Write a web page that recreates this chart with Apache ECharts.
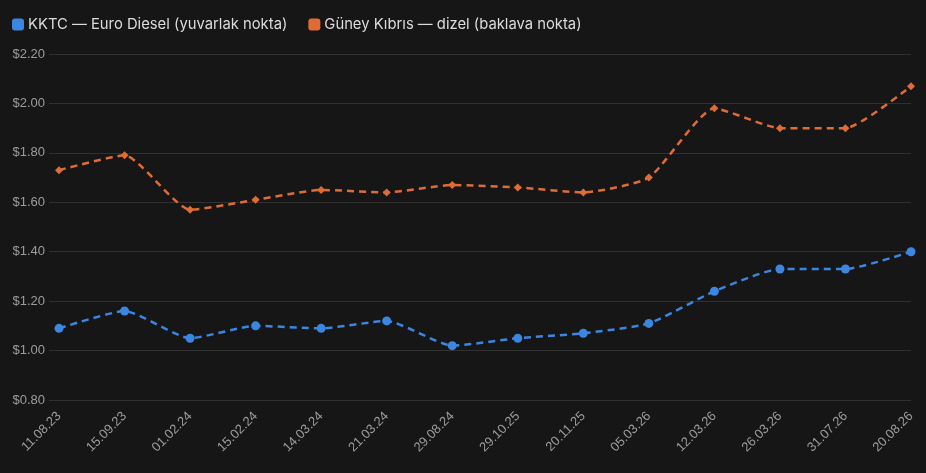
<!DOCTYPE html>
<html>
<head>
<meta charset="utf-8">
<script src="https://cdn.jsdelivr.net/npm/echarts@6/dist/echarts.min.js"></script>
<style>
  html, body { margin: 0; padding: 0; background: #161616; }
  #chart { width: 926px; height: 473px; }
</style>
</head>
<body>
<div id="chart"></div>
<script>
const dates = ["11.08.23", "15.09.23", "01.02.24", "15.02.24", "14.03.24", "21.03.24", "29.08.24",
  "29.10.25", "20.11.25", "05.03.26", "12.03.26", "26.03.26", "31.07.26", "20.08.26"];
const kktc = [1.09, 1.16, 1.05, 1.10, 1.09, 1.12, 1.02, 1.05, 1.07, 1.11, 1.24, 1.33, 1.33, 1.40];
const guney = [1.73, 1.79, 1.57, 1.61, 1.65, 1.64, 1.67, 1.66, 1.64, 1.70, 1.98, 1.90, 1.90, 2.07];

const blue = "#3b86e0";
const orange = "#e06c35";

const chart = echarts.init(document.getElementById("chart"));
chart.setOption({
  backgroundColor: "#161616",
  animation: false,
  textStyle: { fontFamily: "Liberation Sans, Arial, sans-serif" },
  legend: {
    left: 7,
    top: 12,
    itemWidth: 12,
    itemHeight: 12,
    itemGap: 21,
    icon: "roundRect",
    textStyle: { color: "#dcdcdc", fontSize: 14.8, fontFamily: "Inter", fontWeight: 400, padding: [0, 0, 0, -1] },
    data: [
      { name: "KKTC — Euro Diesel (yuvarlak nokta)", itemStyle: { color: blue } },
      { name: "Güney Kıbrıs — dizel (baklava nokta)", itemStyle: { color: orange } },
    ],
  },
  grid: { left: 59, right: 15, top: 54, bottom: 73, containLabel: false },
  xAxis: {
    type: "category",
    data: dates,
    boundaryGap: false,
    axisLine: { show: false },
    axisTick: { show: false },
    splitLine: { show: false },
    axisLabel: { color: "#9c9c9c", fontSize: 13, rotate: 45, margin: 14, interval: 0 },
  },
  yAxis: {
    type: "value",
    min: 0.8,
    max: 2.2,
    interval: 0.2,
    axisLine: { show: false },
    axisTick: { show: true, length: 10, lineStyle: { color: "#303030" } },
    splitLine: { lineStyle: { color: "#303030", width: 1 } },
    axisLabel: {
      color: "#9c9c9c",
      fontSize: 13,
      margin: 14,
      formatter: (v) => "$" + v.toFixed(2),
    },
  },
  series: [
    {
      name: "KKTC — Euro Diesel (yuvarlak nokta)",
      type: "line",
      data: kktc,
      smooth: 0.18,
      symbol: "circle",
      symbolSize: 9,
      itemStyle: { color: blue },
      lineStyle: { color: blue, width: 2.5, type: [7, 5] },
    },
    {
      name: "Güney Kıbrıs — dizel (baklava nokta)",
      type: "line",
      data: guney,
      smooth: 0.18,
      symbol: "diamond",
      symbolSize: 8,
      itemStyle: { color: orange },
      lineStyle: { color: orange, width: 2.5, type: [7, 5] },
    },
  ],
});
</script>
</body>
</html>
